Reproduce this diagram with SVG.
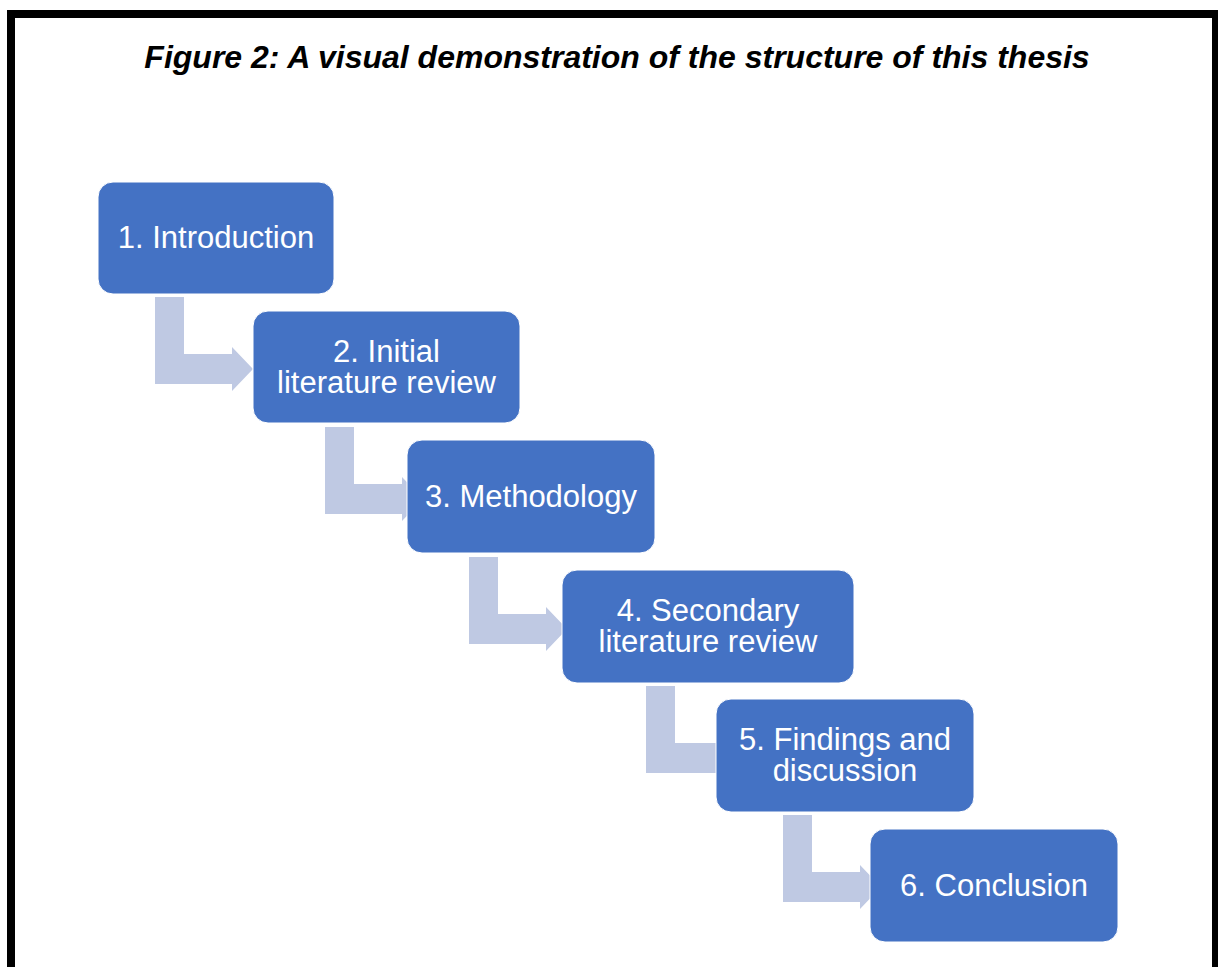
<svg xmlns="http://www.w3.org/2000/svg" width="1218" height="967" viewBox="0 0 1218 967">
<style>
.box{fill:#4472C4;stroke:#ffffff;stroke-width:1}
.lbl{font-family:"Liberation Sans",Arial,sans-serif;font-size:31px;fill:#ffffff;text-anchor:middle}
.arr{fill:#BFC9E3}
.title{font-family:"Liberation Sans",Arial,sans-serif;font-size:32px;font-weight:bold;font-style:italic;fill:#000000;text-anchor:middle}
</style>
<rect x="0" y="0" width="1218" height="967" fill="#ffffff"/>
<rect x="11" y="14" width="1205" height="1000" fill="none" stroke="#000000" stroke-width="8"/>
<text class="title" x="617" y="68">Figure 2: A visual demonstration of the structure of this thesis</text>
<g id="connectors">
<path class="arr" d="M155,297 H184 V354 H232 V347 L253,369 L232,391 V384 H155 Z"/>
<path class="arr" d="M325,427 H354 V484 H402 V477 L423,499 L402,521 V514 H325 Z"/>
<path class="arr" d="M469,557 H498 V614 H546 V607 L567,629 L546,651 V644 H469 Z"/>
<path class="arr" d="M646,686 H675 V743 H723 V736 L744,758 L723,780 V773 H646 Z"/>
<path class="arr" d="M783,815 H812 V872 H860 V865 L881,887 L860,909 V902 H783 Z"/>
</g>
<g id="node1">
<rect class="box" x="98" y="182" width="236" height="112" rx="15"/>
<text class="lbl" x="216" y="248">1. Introduction</text>
</g>
<g id="node2">
<rect class="box" x="253" y="311" width="267" height="112" rx="15"/>
<text class="lbl" x="386.5" y="362">2. Initial</text>
<text class="lbl" x="386.5" y="393">literature review</text>
</g>
<g id="node3">
<rect class="box" x="407" y="440" width="248" height="113" rx="15"/>
<text class="lbl" x="531" y="507">3. Methodology</text>
</g>
<g id="node4">
<rect class="box" x="562" y="570" width="292" height="113" rx="15"/>
<text class="lbl" x="708" y="621">4. Secondary</text>
<text class="lbl" x="708" y="652">literature review</text>
</g>
<g id="node5">
<rect class="box" x="716" y="699" width="258" height="113" rx="15"/>
<text class="lbl" x="845" y="750">5. Findings and</text>
<text class="lbl" x="845" y="781">discussion</text>
</g>
<g id="node6">
<rect class="box" x="870" y="829" width="248" height="113" rx="15"/>
<text class="lbl" x="994" y="896">6. Conclusion</text>
</g>
</svg>
